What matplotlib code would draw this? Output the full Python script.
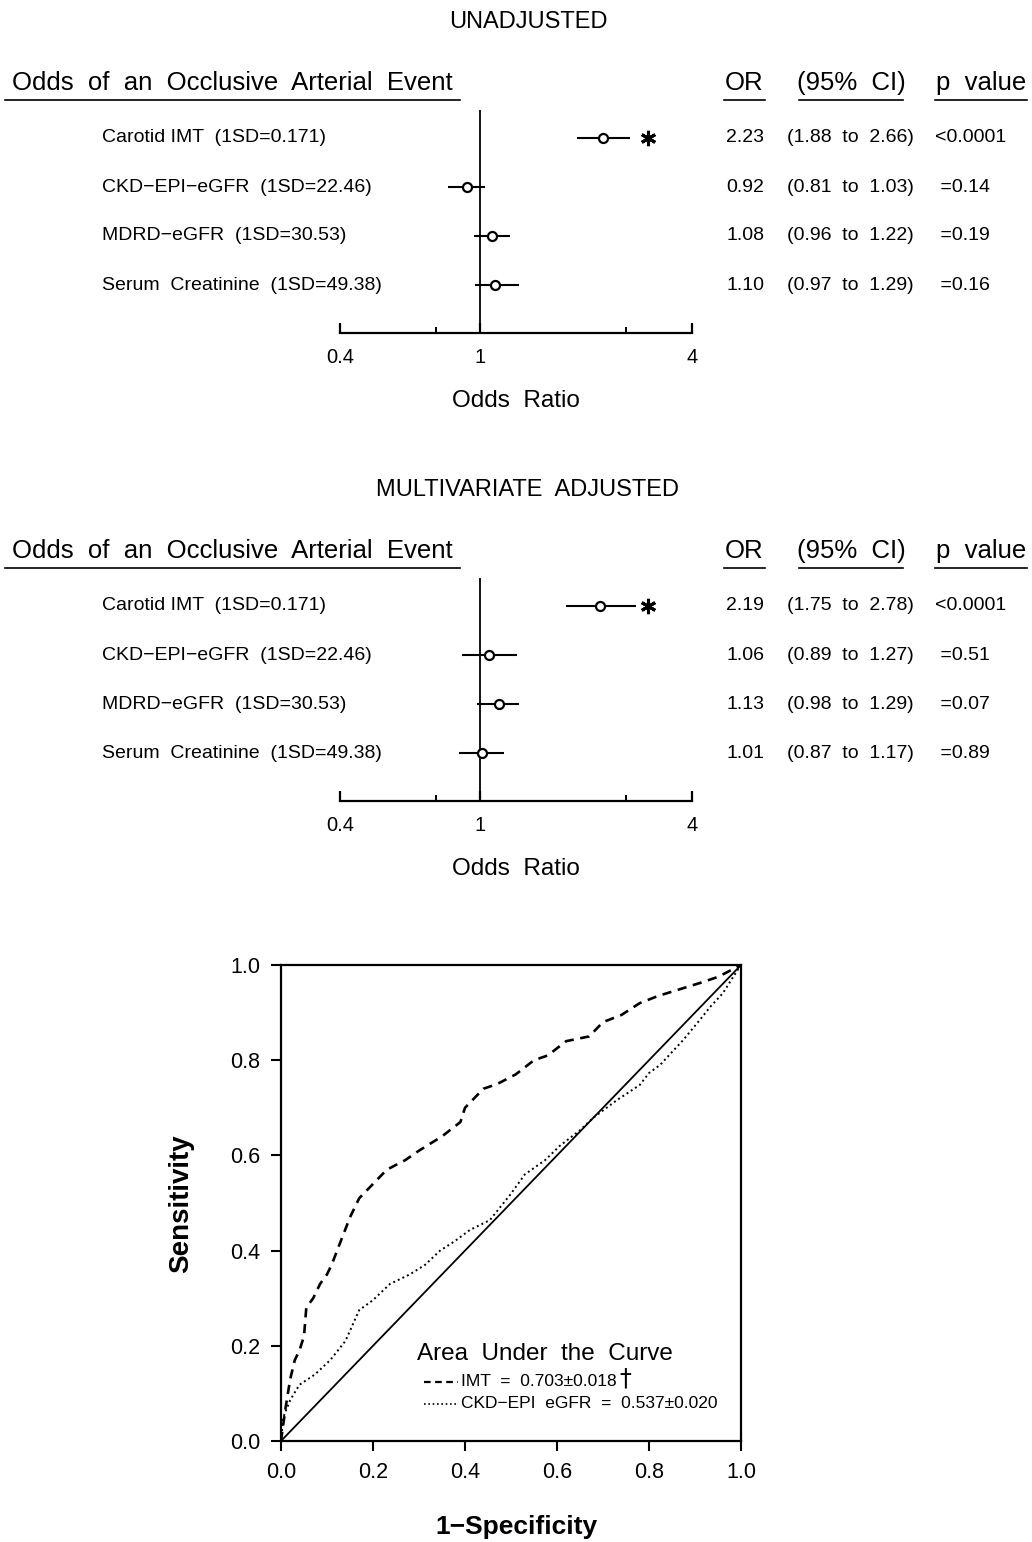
import matplotlib
matplotlib.use("Agg")
import matplotlib.pyplot as plt
import matplotlib.transforms as mtransforms

plt.rcParams['font.family'] = ['Liberation Sans', 'DejaVu Sans']

W, H = 1032, 1542

# forest plot data
labels = ["Carotid IMT  (1SD=0.171)", "CKD\u2212EPI\u2212eGFR  (1SD=22.46)",
          "MDRD\u2212eGFR  (1SD=30.53)", "Serum  Creatinine  (1SD=49.38)"]

unadj_or = [2.23, 0.92, 1.08, 1.10]
unadj_lo = [1.88, 0.81, 0.96, 0.97]
unadj_hi = [2.66, 1.03, 1.22, 1.29]
unadj_p = ["<0.0001", " =0.14", " =0.19", " =0.16"]

adj_or = [2.19, 1.06, 1.13, 1.01]
adj_lo = [1.75, 0.89, 0.98, 0.87]
adj_hi = [2.78, 1.27, 1.29, 1.17]
adj_p = ["<0.0001", " =0.51", " =0.07", " =0.89"]

signif = [True, False, False, False]

# ROC curve points
imt_fpr = [0, 0.01, 0.02, 0.03, 0.04, 0.05, 0.055, 0.07, 0.085, 0.10, 0.11, 0.13,
           0.15, 0.17, 0.20, 0.23, 0.27, 0.30, 0.35, 0.39, 0.40, 0.41, 0.44, 0.47,
           0.51, 0.55, 0.58, 0.62, 0.67, 0.70, 0.74, 0.78, 0.82, 0.87, 0.91, 0.95,
           0.97, 1.0]
imt_tpr = [0, 0.07, 0.13, 0.17, 0.19, 0.22, 0.28, 0.30, 0.33, 0.35, 0.37, 0.42,
           0.47, 0.51, 0.54, 0.57, 0.59, 0.61, 0.64, 0.67, 0.70, 0.71, 0.74, 0.75,
           0.77, 0.80, 0.81, 0.84, 0.85, 0.88, 0.895, 0.92, 0.935, 0.95, 0.962, 0.975,
           0.985, 1.0]

ckd_fpr = [0, 0.005, 0.02, 0.04, 0.074, 0.107, 0.14, 0.17, 0.20, 0.237, 0.28, 0.313,
           0.346, 0.378, 0.41, 0.454, 0.498, 0.53, 0.574, 0.606, 0.65, 0.68, 0.73,
           0.78, 0.80, 0.824, 0.874, 0.91, 0.933, 0.96, 0.983, 0.993, 1.0]
ckd_tpr = [0, 0.05, 0.086, 0.118, 0.14, 0.17, 0.21, 0.275, 0.296, 0.33, 0.35, 0.37,
           0.40, 0.42, 0.443, 0.464, 0.517, 0.56, 0.59, 0.62, 0.653, 0.68, 0.716,
           0.748, 0.773, 0.79, 0.842, 0.884, 0.912, 0.94, 0.975, 0.99, 1.0]

fig = plt.figure(figsize=(W / 100, H / 100), dpi=100)


def fx(px):
    return px / W


def fy(py):
    return 1 - py / H


def forest(top, title, ors, los, his, pvals):
    # top = pixel offset of this panel relative to the first one
    fig.text(fx(528), fy(22 + top), title, ha='center', va='center', fontsize=17)
    fig.text(fx(12), fy(83 + top), "Odds  of  an  Occlusive  Arterial  Event",
             ha='left', va='center', fontsize=18.5)
    for x0, x1, lab, xt in [(5, 460, None, None), (724, 765, "OR", 744),
                            (799, 903, "(95%  CI)", 851), (935, 1027, "p  value", 981)]:
        fig.add_artist(plt.Line2D([fx(x0), fx(x1)], [fy(100 + top)] * 2,
                                  transform=fig.transFigure, color='black', lw=1.2))
        if lab:
            fig.text(fx(xt), fy(83 + top), lab, ha='center', va='center', fontsize=18.5)

    ax = fig.add_axes([fx(340), fy(333 + top), fx(692) - fx(340),
                       fy(110 + top) - fy(333 + top)])
    ax.set_xscale('log')
    ax.set_xlim(0.4, 4)
    ax.set_ylim(1 - 48 / 49, 4 + 28 / 49)
    for s in ['top', 'right', 'left']:
        ax.spines[s].set_visible(False)
    ax.spines['bottom'].set_linewidth(1.6)
    ax.set_yticks([])
    ax.set_xticks([0.4, 1, 4])
    ax.set_xticklabels(["0.4", "1", "4"])
    ax.set_xticks([0.75, 2.6], minor=True)
    ax.xaxis.set_minor_formatter(plt.NullFormatter())
    ax.tick_params(axis='x', which='major', direction='in', length=7, width=1.6,
                   labelsize=14.5, pad=11)
    ax.tick_params(axis='x', which='minor', direction='in', length=4, width=1.4)
    ax.axvline(1, color='black', lw=1.3)
    ax.patch.set_alpha(0)

    rows = [4, 3, 2, 1]
    ax.errorbar(ors, rows, xerr=[[o - l for o, l in zip(ors, los)],
                                 [h - o for o, h in zip(ors, his)]],
                fmt='o', mfc='white', mec='black', mew=1.6, ms=6.5,
                ecolor='black', elinewidth=1.5, capsize=0, color='black', zorder=3)

    tr = mtransforms.blended_transform_factory(fig.transFigure, ax.transData)
    for i, r in enumerate(rows):
        fig.text(fx(102), r, labels[i], transform=tr, ha='left', va='center', fontsize=14)
        fig.text(fx(726), r, f"{ors[i]:.2f}", transform=tr, ha='left', va='center', fontsize=14)
        fig.text(fx(787), r, f"({los[i]:.2f}  to  {his[i]:.2f})", transform=tr,
                 ha='left', va='center', fontsize=14)
        fig.text(fx(935), r, pvals[i], transform=tr, ha='left', va='center', fontsize=14)
        if signif[i]:
            ax.plot([fx(648)], [r], transform=tr, marker=(6, 2, 0), ms=11,
                    mew=2.2, color='black', clip_on=False)

    fig.text(fx(516), fy(401 + top), "Odds  Ratio", ha='center', va='center', fontsize=17.5)


forest(0, "UNADJUSTED", unadj_or, unadj_lo, unadj_hi, unadj_p)
forest(468, "MULTIVARIATE  ADJUSTED", adj_or, adj_lo, adj_hi, adj_p)

# ROC panel
ax = fig.add_axes([fx(281), fy(1441), fx(741) - fx(281), fy(965) - fy(1441)])
ax.plot([0, 1], [0, 1], color='black', lw=1.3)
ax.plot(imt_fpr, imt_tpr, color='black', lw=1.9, linestyle=(0, (3.5, 2.5)))
ax.plot(ckd_fpr, ckd_tpr, color='black', lw=1.4, linestyle=(0, (1, 1.6)))
ax.set_xlim(0, 1)
ax.set_ylim(0, 1)
ticks = [0, 0.2, 0.4, 0.6, 0.8, 1.0]
ax.set_xticks(ticks)
ax.set_yticks(ticks)
ax.set_xticklabels([f"{t:.1f}" for t in ticks])
ax.set_yticklabels([f"{t:.1f}" for t in ticks])
for s in ax.spines.values():
    s.set_linewidth(1.6)
ax.tick_params(direction='out', length=7, width=1.5, labelsize=15.5, pad=8)

ax.text(0.296, 0.183, "Area  Under  the  Curve", transform=ax.transAxes,
        ha='left', va='center', fontsize=17.5)
ax.plot([0.31, 0.385], [0.124, 0.124], transform=ax.transAxes, color='black',
        lw=1.6, linestyle=(0, (3, 2)))
imt_txt = ax.text(0.392, 0.124, "IMT  =  0.703\u00b10.018", transform=ax.transAxes,
                  ha='left', va='center', fontsize=12.5)
ax.plot([0.31, 0.385], [0.078, 0.078], transform=ax.transAxes, color='black',
        lw=1.2, linestyle=(0, (1, 1.6)))
ax.text(0.392, 0.078, "CKD\u2212EPI  eGFR  =  0.537\u00b10.020", transform=ax.transAxes,
        ha='left', va='center', fontsize=12.5)

# dagger placed right after the IMT text
fig.canvas.draw()
bb = imt_txt.get_window_extent(fig.canvas.get_renderer())
ax.text(bb.x1 + 2, bb.y0 - 1, "\u2020", transform=None, ha='left', va='bottom',
        fontsize=17, family='DejaVu Sans')

fig.text(fx(516), fy(1527), "1\u2212Specificity", ha='center', va='center',
         fontsize=19, fontweight='bold')
fig.text(fx(181), fy(1204), "Sensitivity", ha='center', va='center',
         fontsize=20, fontweight='bold', rotation=90)

fig.savefig("out.png", dpi=100)
